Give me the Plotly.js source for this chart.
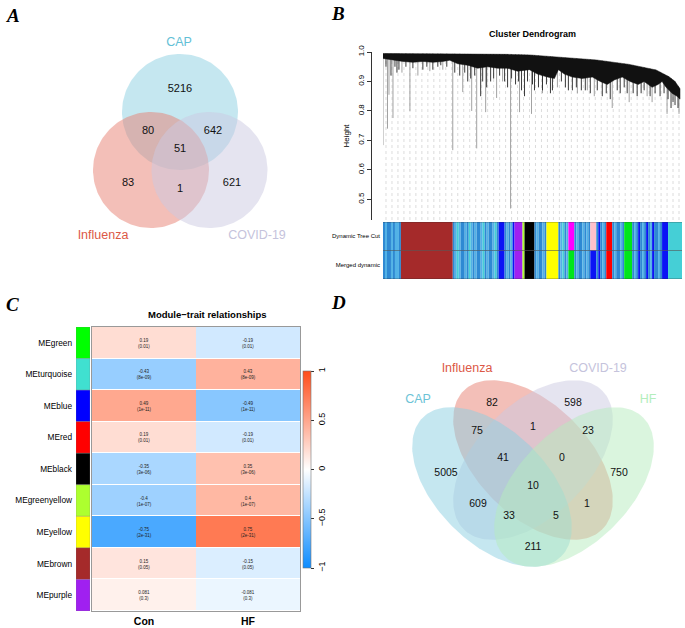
<!DOCTYPE html>
<html><head><meta charset="utf-8">
<script src="https://cdn.plot.ly/plotly-3.0.1.min.js"></script>
<style>html,body{margin:0;padding:0;background:#fff}#chart{width:685px;height:628px}</style>
</head><body><div id="chart"></div>
<script>
// ================= DATA =================
// Panel A : 3-set Venn
const vennA_sets = ['CAP', 'Influenza', 'COVID-19'];
const vennA_regions = ['CAP only', 'CAP & Influenza', 'CAP & COVID-19', 'CAP & Influenza & COVID-19', 'Influenza only', 'Influenza & COVID-19', 'COVID-19 only'];
const vennA_counts = [5216, 80, 642, 51, 83, 1, 621];

// Panel D : 4-set Venn
const vennD_sets = ['Influenza', 'COVID-19', 'CAP', 'HF'];
const vennD_regions = ['Influenza only', 'COVID-19 only', 'CAP & Influenza', 'Influenza & COVID-19', 'COVID-19 & HF',
  'CAP & Influenza & COVID-19', 'Influenza & COVID-19 & HF', 'CAP only', 'HF only', 'All four',
  'CAP & COVID-19', 'Influenza & HF', 'CAP & COVID-19 & HF', 'CAP & Influenza & HF', 'CAP & HF'];
const vennD_counts = [82, 598, 75, 1, 23, 41, 0, 5005, 750, 10, 609, 1, 33, 5, 211];

// Panel C : module-trait heatmap
const modules = ['MEgreen', 'MEturquoise', 'MEblue', 'MEred', 'MEblack', 'MEgreenyellow', 'MEyellow', 'MEbrown', 'MEpurple'];
const traits = ['Con', 'HF'];
const corCon = [0.19, -0.43, 0.49, 0.19, -0.35, -0.4, -0.75, 0.15, 0.081];
const corHF = [-0.19, 0.43, -0.49, -0.19, 0.35, 0.4, 0.75, -0.15, -0.081];
const pCon = ['0.01', '8e-09', '1e-11', '0.01', '3e-06', '1e-07', '2e-31', '0.05', '0.3'];
const pHF = ['0.01', '8e-09', '1e-11', '0.01', '3e-06', '1e-07', '2e-31', '0.05', '0.3'];
const moduleColors = ['#00FF00', '#40E0D0', '#0000FF', '#FF0000', '#000000', '#ADFF2F', '#FFFF00', '#A52A2A', '#A020F0'];
const cbTicks = [-1, -0.5, 0, 0.5, 1];
const cbTickText = ['\u22121', '\u22120.5', '0', '0.5', '1'];

// Panel B : dendrogram (leaf order position 0..300), heights
const envX = [0, 67, 124, 147, 180, 214, 247, 274, 287, 293, 298];
const envY = [0.995, 0.994, 0.992, 0.99, 0.981, 0.973, 0.958, 0.939, 0.916, 0.90, 0.875];
const massX = [0, 10, 20, 30, 40, 50, 60, 67, 75, 85, 95, 105, 115, 125, 135, 147, 155, 165, 172, 176, 182, 190, 200, 210, 218, 225, 232, 240, 248, 256, 262, 270, 276, 280, 284, 290, 295, 298];
const massY = [0.978, 0.972, 0.968, 0.965, 0.968, 0.965, 0.968, 0.972, 0.96, 0.955, 0.945, 0.95, 0.945, 0.945, 0.935, 0.94, 0.925, 0.915, 0.91, 0.94, 0.925, 0.915, 0.91, 0.915, 0.90, 0.89, 0.905, 0.915, 0.90, 0.89, 0.90, 0.88, 0.89, 0.90, 0.88, 0.86, 0.85, 0.84];
const longSpikeX = [0, 4.5, 6, 10, 19, 27, 35, 47, 60, 70, 80, 89, 94, 103, 114, 120, 128, 137, 149, 160, 175, 195, 205, 212, 230, 247, 265, 270, 285, 297];
const longSpikeLow = [0.684, 0.74, 0.855, 0.776, 0.93, 0.80, 0.92, 0.935, 0.94, 0.667, 0.864, 0.80, 0.673, 0.796, 0.844, 0.90, 0.469, 0.796, 0.79, 0.86, 0.88, 0.86, 0.87, 0.85, 0.81, 0.83, 0.85, 0.83, 0.79, 0.79];
const darkSpikeX = [3, 8, 12, 14, 16, 23, 30, 40, 44, 50, 55, 58, 64, 72, 77, 82, 85, 88, 92, 98, 100, 104, 108, 111, 117, 122, 125, 129, 133, 136, 139, 142, 145, 150, 152, 156, 160, 164, 168, 170, 179, 183, 186, 190, 194, 199, 203, 208, 215, 220, 224, 228, 235, 238, 242, 245, 251, 255, 259, 262, 268, 273, 278, 282, 286, 289, 291, 293, 296];
const darkSpikeLow = [0.95, 0.92, 0.95, 0.93, 0.94, 0.95, 0.945, 0.94, 0.95, 0.94, 0.95, 0.955, 0.95, 0.93, 0.92, 0.93, 0.90, 0.91, 0.92, 0.85, 0.90, 0.88, 0.90, 0.91, 0.92, 0.90, 0.88, 0.91, 0.89, 0.90, 0.87, 0.85, 0.90, 0.89, 0.87, 0.88, 0.87, 0.89, 0.86, 0.87, 0.90, 0.88, 0.87, 0.87, 0.88, 0.87, 0.87, 0.86, 0.87, 0.85, 0.86, 0.84, 0.87, 0.86, 0.88, 0.86, 0.86, 0.85, 0.86, 0.87, 0.85, 0.86, 0.85, 0.86, 0.84, 0.81, 0.83, 0.82, 0.81];
const colorRowLabels = ['Dynamic Tree Cut', 'Merged dynamic'];
// one code per block of 2 leaf positions
const dynamicTreeCut = 'SLSSLSLLS' + 'NNNNNNNNNNNNNNNNNNNNNNNNNN' + 'SLTLSSLSTLSLSSLTSLSSLTS' + 'BBB' + 'SLSL' + 'B' + 'PPPP' + 'G' + 'KKKKK' + 'SLSSLS' + 'YYYYYY' + 'SLTSL' + 'MMM' + 'SLSSLSLS' + 'ppp' + 'SBSLS' + 'RRR' + 'SLSSLS' + 'gggg' + 'SLSBSLSBSLBSSLS' + 'BBB' + 'TTTTTTT';
const mergedDynamic  = 'SLSSLSLLS' + 'NNNNNNNNNNNNNNNNNNNNNNNNNN' + 'SLTLSSLSTLSLSSLTSLSSLTS' + 'BBB' + 'SLSL' + 'B' + 'PPPP' + 'G' + 'KKKKK' + 'SLSSLS' + 'YYYYYY' + 'SLTSL' + 'ggg' + 'SLSSLSLS' + 'BBB' + 'SBSLS' + 'RRR' + 'SLSSLS' + 'gggg' + 'SLSBSLSBSLBSSLS' + 'BBB' + 'TTTTTTT';

// ================= STYLE / GEOMETRY =================
const codeColor = {S:'#2e89d3', L:'#52b2e6', T:'#45cfd6', B:'#0b14f5', N:'#A52A2A', P:'#A020F0', G:'#ADFF2F', K:'#000000', Y:'#FFFF00', M:'#FF00FF', g:'#00E61A', p:'#FFC0CB', R:'#FF0000'};
const FONT = 'Liberation Sans, Arial, sans-serif';
const px = v => v / 685, py = v => 1 - v / 628;

const geomA = {
  circles: [[180, 112, 58], [151, 170, 58], [209.5, 170, 58]],
  fills: ['rgba(140,207,225,0.5)', 'rgba(232,128,113,0.5)', 'rgba(203,201,225,0.5)'],
  labelColors: ['#62c0d6', '#dc5846', '#c5c3dc'],
  labelPos: [[179, 43], [103, 236], [257, 236]],
  countPos: [[180, 89], [148, 131], [213, 131], [180, 149], [128, 183], [180, 189], [232, 183]]
};
const geomD = {
  ellipses: [[533, 460, 98, 56, 45], [533, 460, 98, 56, -45], [492, 487, 98, 56, 45], [574, 487, 98, 56, -45]],
  fills: ['rgba(232,128,113,0.5)', 'rgba(203,201,225,0.5)', 'rgba(140,207,225,0.5)', 'rgba(182,236,190,0.5)'],
  labelColors: ['#dc5846', '#c5c3dc', '#6cc3d6', '#b3eebc'],
  labelPos: [[467, 369], [598, 369], [418, 400], [648, 400]],
  countPos: [[492, 403], [573, 403], [477, 431], [533, 427], [588, 431], [503, 458], [562, 458], [446, 473], [619, 473], [533, 486], [478, 504], [587, 504], [509, 516], [556, 516], [533, 547]]
};

function ellipse(cx, cy, a, b, deg) {
  const xs = [], ys = [], th = deg * Math.PI / 180;
  for (let k = 0; k <= 160; k++) {
    const t = 2 * Math.PI * k / 160;
    xs.push(cx + a * Math.cos(th) * Math.cos(t) - b * Math.sin(th) * Math.sin(t));
    ys.push(cy + a * Math.sin(th) * Math.cos(t) + b * Math.cos(th) * Math.sin(t));
  }
  return {xs, ys};
}
function envAt(x) {
  for (let i = 0; i < envX.length - 1; i++) {
    if (x <= envX[i + 1]) { const f = (x - envX[i]) / (envX[i + 1] - envX[i]); return envY[i] + f * (envY[i + 1] - envY[i]); }
  }
  return envY[envY.length - 1];
}
function runs(codes) {
  const out = [];
  for (let i = 0; i < codes.length; i++) {
    if (out.length && out[out.length - 1].c === codes[i]) out[out.length - 1].n++;
    else out.push({c:codes[i], s:i, n:1});
  }
  return out;
}

const traces = [];
// ---- Panel A
geomA.circles.forEach((c, i) => {
  const e = ellipse(c[0], c[1], c[2], c[2], 0);
  traces.push({type:'scatter', mode:'lines', x:e.xs, y:e.ys, fill:'toself', fillcolor:geomA.fills[i], line:{width:0}, hoverinfo:'skip', xaxis:'x', yaxis:'y'});
});
traces.push({type:'scatter', mode:'text', x:geomA.countPos.map(p => p[0]), y:geomA.countPos.map(p => p[1]),
  text:vennA_counts.map(String), textfont:{family:FONT, size:11, color:'#111'}, hoverinfo:'skip', xaxis:'x', yaxis:'y'});
traces.push({type:'scatter', mode:'text', x:geomA.labelPos.map(p => p[0]), y:geomA.labelPos.map(p => p[1]),
  text:vennA_sets, textfont:{family:FONT, size:12.5, color:geomA.labelColors}, hoverinfo:'skip', xaxis:'x', yaxis:'y'});

// ---- Panel D
geomD.ellipses.forEach((c, i) => {
  const e = ellipse(c[0], c[1], c[2], c[3], c[4]);
  traces.push({type:'scatter', mode:'lines', x:e.xs, y:e.ys, fill:'toself', fillcolor:geomD.fills[i], line:{width:0}, hoverinfo:'skip', xaxis:'x', yaxis:'y'});
});
traces.push({type:'scatter', mode:'text', x:geomD.countPos.map(p => p[0]), y:geomD.countPos.map(p => p[1]),
  text:vennD_counts.map(String), textfont:{family:FONT, size:10.5, color:'#111'}, hoverinfo:'skip', xaxis:'x', yaxis:'y'});
traces.push({type:'scatter', mode:'text', x:geomD.labelPos.map(p => p[0]), y:geomD.labelPos.map(p => p[1]),
  text:vennD_sets, textfont:{family:FONT, size:12.5, color:geomD.labelColors}, hoverinfo:'skip', xaxis:'x', yaxis:'y'});

// ---- Panel B dendrogram
const gx = [], gy = [];
for (let i = 0; i < 50; i++) { const x = (i + 0.5) * 6; gx.push(x, x, null); gy.push(0.43, envAt(x), null); }
traces.push({type:'scatter', mode:'lines', x:gx, y:gy, line:{color:'#c4c4c4', width:0.6, dash:'dot'}, hoverinfo:'skip', xaxis:'x2', yaxis:'y2'});
const lx = [], ly = [];
longSpikeX.forEach((x, i) => { lx.push(x, x, null); ly.push(envAt(x), longSpikeLow[i], null); });
traces.push({type:'scatter', mode:'lines', x:lx, y:ly, line:{color:'#8a8a8a', width:0.8}, hoverinfo:'skip', xaxis:'x2', yaxis:'y2'});
const dx = [], dy = [];
darkSpikeX.forEach((x, i) => { dx.push(x, x, null); dy.push(envAt(x), darkSpikeLow[i], null); });
traces.push({type:'scatter', mode:'lines', x:dx, y:dy, line:{color:'#222', width:0.9}, hoverinfo:'skip', xaxis:'x2', yaxis:'y2'});
traces.push({type:'scatter', mode:'lines', x:envX.concat(massX.slice().reverse()), y:envY.concat(massY.slice().reverse()),
  fill:'toself', fillcolor:'#111', line:{color:'#111', width:0.5}, hoverinfo:'skip', xaxis:'x2', yaxis:'y2'});

// colour rows (runs of identical module colour)
[[dynamicTreeCut, 1], [mergedDynamic, 0]].forEach(([codes, base]) => {
  const r = runs(codes);
  traces.push({type:'bar', x:r.map(o => (o.s + o.n / 2) * 2), y:r.map(o => 1), base:r.map(() => base), width:r.map(o => o.n * 2),
    marker:{color:r.map(o => codeColor[o.c]), line:{width:0}}, hoverinfo:'skip', xaxis:'x3', yaxis:'y3'});
});

// ---- Panel C heatmap
traces.push({type:'heatmap', x:traits, y:modules, z:modules.map((m, i) => [corCon[i], corHF[i]]),
  text:modules.map((m, i) => [corCon[i] + '<br>(' + pCon[i] + ')', corHF[i] + '<br>(' + pHF[i] + ')']),
  texttemplate:'%{text}', textfont:{family:FONT, size:4.5, color:'#222'}, zmin:-1, zmax:1, ygap:1,
  colorscale:[[0, 'rgb(13,140,255)'], [0.5, 'rgb(255,255,255)'], [1, 'rgb(255,77,26)']],
  colorbar:{x:px(303), xanchor:'left', xpad:0, y:py(568), yanchor:'bottom', ypad:0, len:197 / 628, lenmode:'fraction',
    thickness:8, thicknessmode:'pixels', outlinewidth:0.6, outlinecolor:'#777', ticks:'outside', ticklen:3, tickcolor:'#333',
    tickvals:cbTicks, ticktext:cbTickText, tickangle:-90, tickfont:{family:FONT, size:9}},
  hoverinfo:'skip', xaxis:'x4', yaxis:'y4'});
traces.push({type:'bar', orientation:'h', y:modules, x:modules.map(() => 1), width:modules.map(() => 1),
  marker:{color:moduleColors, line:{width:0.6, color:'rgba(120,120,120,0.5)'}}, hoverinfo:'skip', xaxis:'x5', yaxis:'y5'});

const hidden = {visible:false, fixedrange:true};
const ann = (text, x, y, font) => ({text, x:px(x), y:py(y), xref:'paper', yref:'paper', xanchor:'center', yanchor:'middle', showarrow:false, font});
const LETTER = {family:'Liberation Serif, serif', size:19};
const layout = {
  width:685, height:628, margin:{l:0, r:0, t:0, b:0}, paper_bgcolor:'#fff', plot_bgcolor:'rgba(0,0,0,0)', showlegend:false,
  font:{family:FONT, color:'#000'}, barmode:'overlay',
  xaxis:Object.assign({domain:[0, 1], range:[0, 685], anchor:'y'}, hidden),
  yaxis:Object.assign({domain:[0, 1], range:[628, 0], anchor:'x'}, hidden),
  xaxis2:Object.assign({domain:[px(383), px(682)], range:[0, 300], anchor:'y2'}, hidden),
  yaxis2:{domain:[py(220), py(52)], range:[0.43, 1.0], anchor:'free', position:px(371), showline:true, linecolor:'#333', linewidth:1,
    ticks:'outside', ticklen:4, tickcolor:'#333', tickvals:[0.5, 0.6, 0.7, 0.8, 0.9, 1.0], ticktext:['0.5', '0.6', '0.7', '0.8', '0.9', '1.0'],
    tickangle:-90, tickfont:{family:FONT, size:8}, showgrid:false, zeroline:false,
    title:{text:'Height', font:{family:FONT, size:8}, standoff:4}},
  xaxis3:Object.assign({domain:[px(383), px(682)], range:[0, 300], anchor:'y3'}, hidden),
  yaxis3:{domain:[py(279), py(222)], range:[0, 2], anchor:'x3', tickvals:[1.5, 0.5], ticktext:colorRowLabels, ticks:'',
    showline:false, showgrid:false, zeroline:false, tickfont:{family:FONT, size:6}, ticklabelstandoff:2},
  xaxis4:{domain:[px(92), px(300)], anchor:'y4', showline:true, mirror:true, linecolor:'#999', linewidth:1, ticks:'',
    tickvals:traits, ticktext:traits.map(t => '<b>' + t + '</b>'), tickfont:{family:FONT, size:10.5}, showgrid:false, zeroline:false},
  yaxis4:{domain:[py(611), py(327)], anchor:'x4', autorange:'reversed', showticklabels:false, ticks:'', showline:true, mirror:true,
    linecolor:'#999', linewidth:1, showgrid:false, zeroline:false},
  xaxis5:Object.assign({domain:[px(76), px(90)], range:[0, 1], anchor:'y5'}, hidden),
  yaxis5:{domain:[py(611), py(327)], anchor:'x5', autorange:'reversed', ticks:'', showline:false, showgrid:false, zeroline:false,
    tickfont:{family:FONT, size:8.3}, ticklabelstandoff:3},
  shapes:[0, 1, 2].map(v => ({type:'line', xref:'x3 domain', yref:'y3', x0:0, x1:1, y0:v, y1:v, line:{color:'rgba(40,40,40,0.6)', width:0.8}})),
  annotations:[
    ann('<b><i>A</i></b>', 13, 15, LETTER),
    ann('<b><i>B</i></b>', 338, 14, LETTER),
    ann('<b><i>C</i></b>', 12, 304, LETTER),
    ann('<b><i>D</i></b>', 338, 302, LETTER),
    ann('<b>Cluster Dendrogram</b>', 532, 34, {family:FONT, size:9}),
    ann('<b>Module\u2212trait relationships</b>', 207, 314, {family:FONT, size:9.5})
  ]
};
Plotly.newPlot('chart', traces, layout, {staticPlot:true, displayModeBar:false});
</script>
</body></html>
